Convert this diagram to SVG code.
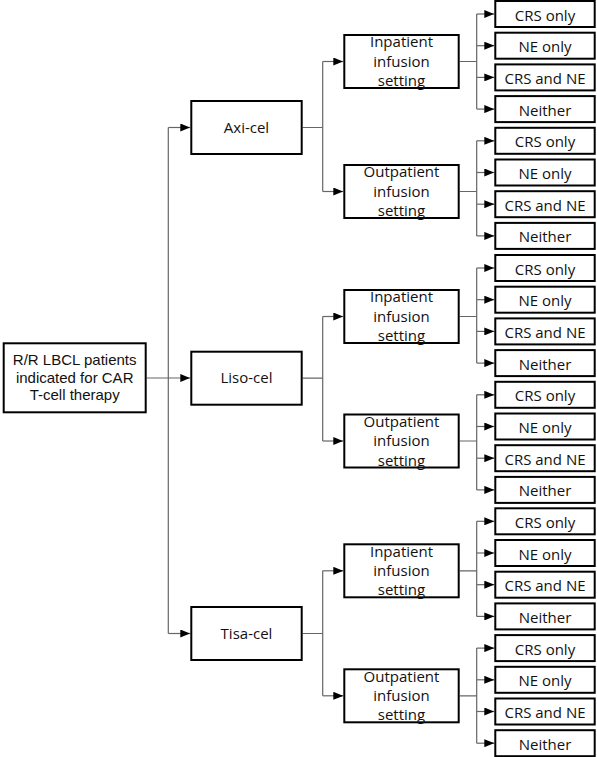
<svg xmlns="http://www.w3.org/2000/svg" width="597" height="757" viewBox="0 0 597 757">
<style>
rect.b{fill:#fff;stroke:#000;stroke-width:2}
text{font-family:"Open Sans","Liberation Sans",sans-serif;font-size:15px;fill:#111;text-anchor:middle}
text.r{font-family:"Liberation Sans","Open Sans",sans-serif;font-size:15px}
.c path{fill:none;stroke:#666;stroke-width:1.2}
.c path.a{marker-end:url(#ah)}
</style>
<defs>
<marker id="ah" markerUnits="userSpaceOnUse" markerWidth="10" markerHeight="8" refX="10" refY="4" orient="auto">
<path d="M0,0 L10,4 L0,8 z" fill="#000"/>
</marker>
</defs>
<rect width="597" height="757" fill="#fff"/>
<g class="c" id="connectors">
<path d="M146.7 378 H190.3" class="a"/>
<path d="M168.3 127.5 V633.5"/>
<path d="M168.3 127.5 H190.3" class="a"/>
<path d="M168.3 633.5 H190.3" class="a"/>
<path d="M302.7 127.5 H322.7 M322.7 61.5 V191.5"/>
<path d="M322.7 61.5 H343.3" class="a"/>
<path d="M322.7 191.5 H343.3" class="a"/>
<path d="M302.7 378.2 H322.7 M322.7 316.5 V441"/>
<path d="M322.7 316.5 H343.3" class="a"/>
<path d="M322.7 441 H343.3" class="a"/>
<path d="M302.7 633.5 H322.7 M322.7 570.8 V695.8"/>
<path d="M322.7 570.8 H343.3" class="a"/>
<path d="M322.7 695.8 H343.3" class="a"/>
<path d="M459.7 61.5 H476.7 M476.7 14 V109.1"/>
<path d="M476.7 14 H494.3" class="a"/>
<path d="M476.7 45.7 H494.3" class="a"/>
<path d="M476.7 77.4 H494.3" class="a"/>
<path d="M476.7 109.1 H494.3" class="a"/>
<path d="M459.7 191.5 H476.7 M476.7 140.8 V235.9"/>
<path d="M476.7 140.8 H494.3" class="a"/>
<path d="M476.7 172.5 H494.3" class="a"/>
<path d="M476.7 204.2 H494.3" class="a"/>
<path d="M476.7 235.9 H494.3" class="a"/>
<path d="M459.7 316.5 H476.7 M476.7 268 V363.1"/>
<path d="M476.7 268 H494.3" class="a"/>
<path d="M476.7 299.7 H494.3" class="a"/>
<path d="M476.7 331.4 H494.3" class="a"/>
<path d="M476.7 363.1 H494.3" class="a"/>
<path d="M459.7 441 H476.7 M476.7 394.8 V489.9"/>
<path d="M476.7 394.8 H494.3" class="a"/>
<path d="M476.7 426.5 H494.3" class="a"/>
<path d="M476.7 458.2 H494.3" class="a"/>
<path d="M476.7 489.9 H494.3" class="a"/>
<path d="M459.7 570.8 H476.7 M476.7 521.3 V616.4"/>
<path d="M476.7 521.3 H494.3" class="a"/>
<path d="M476.7 553 H494.3" class="a"/>
<path d="M476.7 584.7 H494.3" class="a"/>
<path d="M476.7 616.4 H494.3" class="a"/>
<path d="M459.7 695.8 H476.7 M476.7 648.1 V743.2"/>
<path d="M476.7 648.1 H494.3" class="a"/>
<path d="M476.7 679.8 H494.3" class="a"/>
<path d="M476.7 711.5 H494.3" class="a"/>
<path d="M476.7 743.2 H494.3" class="a"/>
</g>
<g id="root"><rect class="b" x="3.7" y="343.3" width="142" height="69"/>
<text class="r" x="74.7" y="365.3">R/R LBCL patients</text><text class="r" x="74.7" y="382.9">indicated for CAR</text><text class="r" x="74.7" y="400.4">T-cell therapy</text></g>
<g id="axi"><rect class="b" x="191.3" y="101" width="110.4" height="53"/><text x="246.5" y="132.5">Axi-cel</text></g>
<g id="liso"><rect class="b" x="191.3" y="351.7" width="110.4" height="53"/><text x="246.5" y="383.2">Liso-cel</text></g>
<g id="tisa"><rect class="b" x="191.3" y="607" width="110.4" height="53"/><text x="246.5" y="638.5">Tisa-cel</text></g>
<g id="axi-in"><rect class="b" x="344.3" y="35" width="114.4" height="53"/><text x="401.5" y="47.2">Inpatient<tspan x="401.5" dy="19.5">infusion</tspan><tspan x="401.5" dy="19.3">setting</tspan></text></g>
<g id="axi-out"><rect class="b" x="344.3" y="165" width="114.4" height="53"/><text x="401.5" y="177.2">Outpatient<tspan x="401.5" dy="19.5">infusion</tspan><tspan x="401.5" dy="19.3">setting</tspan></text></g>
<g id="liso-in"><rect class="b" x="344.3" y="290" width="114.4" height="53"/><text x="401.5" y="302.2">Inpatient<tspan x="401.5" dy="19.5">infusion</tspan><tspan x="401.5" dy="19.3">setting</tspan></text></g>
<g id="liso-out"><rect class="b" x="344.3" y="414.5" width="114.4" height="53"/><text x="401.5" y="426.7">Outpatient<tspan x="401.5" dy="19.5">infusion</tspan><tspan x="401.5" dy="19.3">setting</tspan></text></g>
<g id="tisa-in"><rect class="b" x="344.3" y="544.3" width="114.4" height="53"/><text x="401.5" y="556.5">Inpatient<tspan x="401.5" dy="19.5">infusion</tspan><tspan x="401.5" dy="19.3">setting</tspan></text></g>
<g id="tisa-out"><rect class="b" x="344.3" y="669.3" width="114.4" height="53"/><text x="401.5" y="681.5">Outpatient<tspan x="401.5" dy="19.5">infusion</tspan><tspan x="401.5" dy="19.3">setting</tspan></text></g>
<g id="l1"><rect class="b" x="495.3" y="1" width="99.4" height="26"/><text x="545" y="20.5">CRS only</text></g>
<g id="l2"><rect class="b" x="495.3" y="32.7" width="99.4" height="26"/><text x="545" y="52.2">NE only</text></g>
<g id="l3"><rect class="b" x="495.3" y="64.4" width="99.4" height="26"/><text x="545" y="83.9">CRS and NE</text></g>
<g id="l4"><rect class="b" x="495.3" y="96.1" width="99.4" height="26"/><text x="545" y="115.6">Neither</text></g>
<g id="l5"><rect class="b" x="495.3" y="127.8" width="99.4" height="26"/><text x="545" y="147.3">CRS only</text></g>
<g id="l6"><rect class="b" x="495.3" y="159.5" width="99.4" height="26"/><text x="545" y="179">NE only</text></g>
<g id="l7"><rect class="b" x="495.3" y="191.2" width="99.4" height="26"/><text x="545" y="210.7">CRS and NE</text></g>
<g id="l8"><rect class="b" x="495.3" y="222.9" width="99.4" height="26"/><text x="545" y="242.4">Neither</text></g>
<g id="l9"><rect class="b" x="495.3" y="255" width="99.4" height="26"/><text x="545" y="274.5">CRS only</text></g>
<g id="l10"><rect class="b" x="495.3" y="286.7" width="99.4" height="26"/><text x="545" y="306.2">NE only</text></g>
<g id="l11"><rect class="b" x="495.3" y="318.4" width="99.4" height="26"/><text x="545" y="337.9">CRS and NE</text></g>
<g id="l12"><rect class="b" x="495.3" y="350.1" width="99.4" height="26"/><text x="545" y="369.6">Neither</text></g>
<g id="l13"><rect class="b" x="495.3" y="381.8" width="99.4" height="26"/><text x="545" y="401.3">CRS only</text></g>
<g id="l14"><rect class="b" x="495.3" y="413.5" width="99.4" height="26"/><text x="545" y="433">NE only</text></g>
<g id="l15"><rect class="b" x="495.3" y="445.2" width="99.4" height="26"/><text x="545" y="464.7">CRS and NE</text></g>
<g id="l16"><rect class="b" x="495.3" y="476.9" width="99.4" height="26"/><text x="545" y="496.4">Neither</text></g>
<g id="l17"><rect class="b" x="495.3" y="508.3" width="99.4" height="26"/><text x="545" y="527.8">CRS only</text></g>
<g id="l18"><rect class="b" x="495.3" y="540" width="99.4" height="26"/><text x="545" y="559.5">NE only</text></g>
<g id="l19"><rect class="b" x="495.3" y="571.7" width="99.4" height="26"/><text x="545" y="591.2">CRS and NE</text></g>
<g id="l20"><rect class="b" x="495.3" y="603.4" width="99.4" height="26"/><text x="545" y="622.9">Neither</text></g>
<g id="l21"><rect class="b" x="495.3" y="635.1" width="99.4" height="26"/><text x="545" y="654.6">CRS only</text></g>
<g id="l22"><rect class="b" x="495.3" y="666.8" width="99.4" height="26"/><text x="545" y="686.3">NE only</text></g>
<g id="l23"><rect class="b" x="495.3" y="698.5" width="99.4" height="26"/><text x="545" y="718">CRS and NE</text></g>
<g id="l24"><rect class="b" x="495.3" y="730.2" width="99.4" height="26"/><text x="545" y="749.7">Neither</text></g>
</svg>
